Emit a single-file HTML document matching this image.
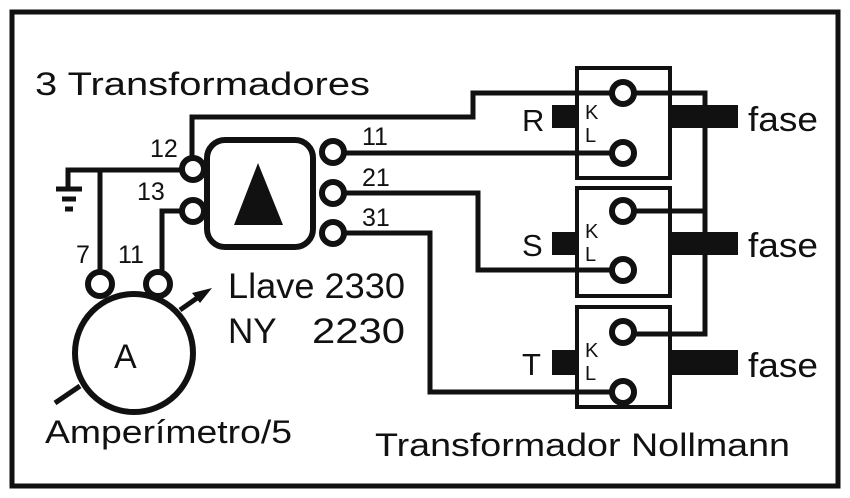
<!DOCTYPE html>
<html><head><style>html,body{margin:0;padding:0;background:#fff}svg{display:block}</style></head>
<body>
<svg width="850" height="498" viewBox="0 0 850 498" xmlns="http://www.w3.org/2000/svg" font-family="Liberation Sans, sans-serif" fill="none" stroke="#111">
<rect x="12" y="12" width="826" height="474" stroke-width="5"/>
<g stroke-width="5">
<polyline points="192,157 192,117 473,117 473,93 705,93 705,334 623,334"/>
<line x1="623" y1="211" x2="705" y2="211"/>
<line x1="333" y1="153" x2="623" y2="153"/>
<polyline points="333,193 478,193 478,270 623,270"/>
<polyline points="333,233 430,233 430,392 623,392"/>
<polyline points="193,170 68,170 68,189"/>
<line x1="100" y1="170" x2="100" y2="282"/>
<polyline points="193,211 162,211 162,282"/>
<line x1="55" y1="403" x2="80" y2="386"/>
<line x1="180" y1="310" x2="200" y2="296"/>
<line x1="56" y1="189" x2="82" y2="189"/>
<line x1="62" y1="199" x2="76" y2="199"/>
<line x1="65" y1="209" x2="73" y2="209"/>
</g>
<g stroke-width="4">
<rect x="577" y="68" width="93" height="110"/>
<rect x="577" y="188" width="93" height="108"/>
<rect x="577" y="307" width="93" height="100"/>
</g>
<g stroke-width="6" fill="#fff">
<rect x="207" y="140" width="106" height="107" rx="18"/>
<circle cx="193" cy="169" r="11"/><circle cx="193" cy="211" r="11"/>
<circle cx="333" cy="152" r="11"/><circle cx="333" cy="193" r="11"/><circle cx="333" cy="233" r="11"/>
<circle cx="134" cy="353" r="59"/>
<circle cx="100" cy="284" r="12"/><circle cx="158" cy="284" r="12"/>
<circle cx="623" cy="93" r="11"/><circle cx="623" cy="153" r="11"/>
<circle cx="623" cy="211" r="11"/><circle cx="623" cy="270" r="11"/>
<circle cx="623" cy="332" r="11"/><circle cx="623" cy="392" r="11"/>
</g>
<g fill="#111" stroke="none">
<polygon points="258,163 234,225 283,225"/>
<polygon points="212,288 192,293 200,303"/>
<rect x="552" y="105" width="25" height="23"/><rect x="552" y="232" width="25" height="23"/><rect x="552" y="350" width="25" height="25"/>
<rect x="670" y="105" width="68" height="23"/><rect x="670" y="232" width="68" height="23"/><rect x="670" y="350" width="68" height="25"/>
<text x="35" y="95" font-size="32" textLength="335" lengthAdjust="spacingAndGlyphs">3 Transformadores</text>
<text x="228" y="298" font-size="35" textLength="177" lengthAdjust="spacingAndGlyphs">Llave 2330</text>
<text x="228" y="343" font-size="35">NY</text>
<text x="312" y="343" font-size="35" textLength="93" lengthAdjust="spacingAndGlyphs">2230</text>
<text x="45" y="443" font-size="32" textLength="247" lengthAdjust="spacingAndGlyphs">Amperímetro/5</text>
<text x="375" y="456" font-size="32" textLength="415" lengthAdjust="spacingAndGlyphs">Transformador Nollmann</text>
<g font-size="25">
<text x="150" y="157">12</text>
<text x="137" y="200">13</text>
<text x="76" y="263">7</text>
<text x="118" y="263">11</text>
<text x="362" y="145">11</text>
<text x="362" y="186">21</text>
<text x="362" y="226">31</text>
</g>
<text x="114" y="368" font-size="34">A</text>
<text x="522" y="131" font-size="31">R</text>
<text x="522" y="256" font-size="31">S</text>
<text x="522" y="375" font-size="31">T</text>
<g font-size="20"><text x="585" y="119">K</text><text x="585" y="142">L</text>
<text x="585" y="238">K</text><text x="585" y="261">L</text>
<text x="585" y="357">K</text><text x="585" y="380">L</text></g>
<text x="748" y="131" font-size="34" textLength="70" lengthAdjust="spacingAndGlyphs">fase</text>
<text x="748" y="257" font-size="34" textLength="70" lengthAdjust="spacingAndGlyphs">fase</text>
<text x="748" y="377" font-size="34" textLength="70" lengthAdjust="spacingAndGlyphs">fase</text>
</g>
</svg>
</body></html>
